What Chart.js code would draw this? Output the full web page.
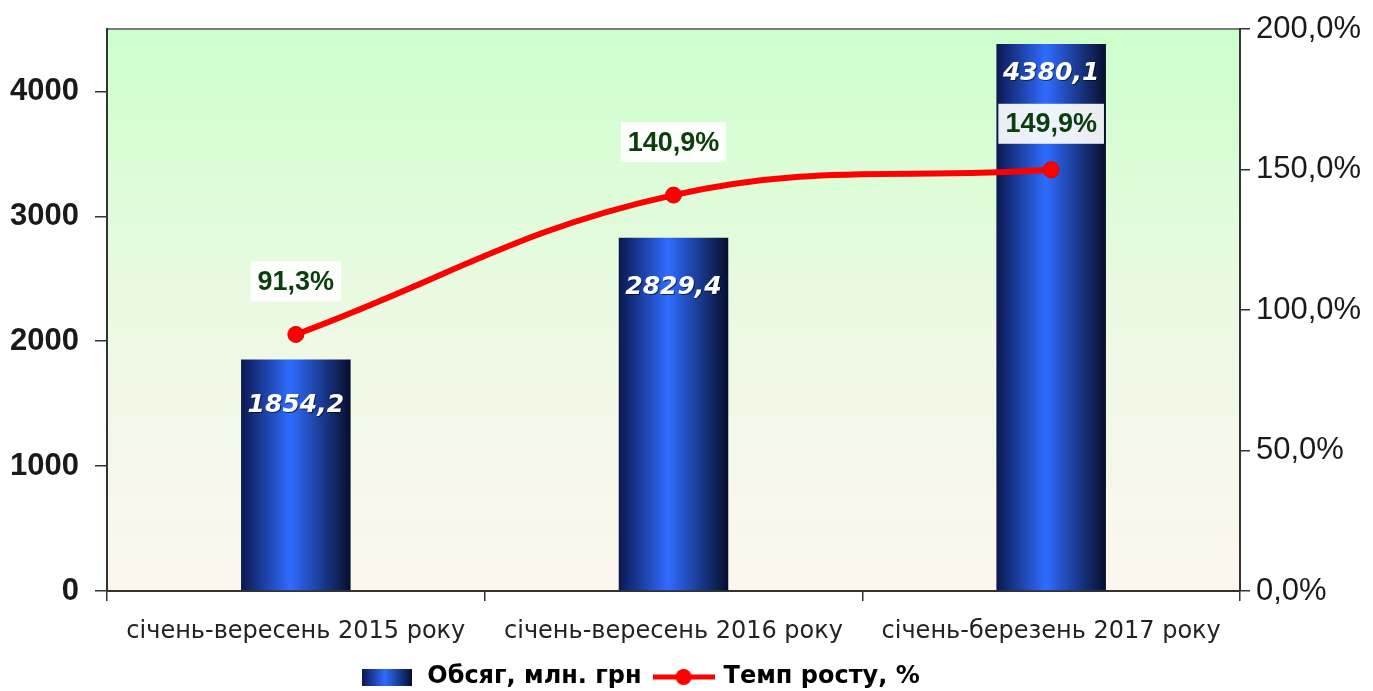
<!DOCTYPE html>
<html>
<head>
<meta charset="utf-8">
<script src="https://cdn.jsdelivr.net/npm/chart.js@4.4.1/dist/chart.umd.min.js"></script>
<style>
html,body{margin:0;padding:0;background:#fff}
#wrap{width:1373px;height:691px}
</style>
</head>
<body>
<div id="wrap"><canvas id="grafico" width="1373" height="691"></canvas></div>
<script>
// дані з діаграми
const kategorii=["січень-вересень 2015 року","січень-вересень 2016 року","січень-березень 2017 року"]
const obsyag=[1854.2,2829.4,4380.1]
const tempRostu=[91.3,140.9,149.9]
const tickyLivi=[0,1000,2000,3000,4000]
const tickyPravi=[0,50,100,150,200]

// зсув підписів (тільки оформлення)
const zsuvStovpciv=[46,50,30]
const zsuvTochok=[53,53,46]

function koma(v,d){
return v.toFixed(d).replace(".",",")
}

function gradStovpcya(ctx,x0,x1){
let g=ctx.createLinearGradient(x0,0,x1,0)
g.addColorStop(0,"#0b1850")
g.addColorStop(0.45,"#2f6cff")
g.addColorStop(1,"#070e2c")
return g
}

// картинки для легенди
function markerStovpec(){
let c=document.createElement("canvas")
c.width=50;c.height=17
let x=c.getContext("2d")
x.fillStyle=gradStovpcya(x,0,50)
x.fillRect(0,0,50,17)
return c
}
function markerLinia(){
let c=document.createElement("canvas")
c.width=62;c.height=18
let x=c.getContext("2d")
x.strokeStyle="#ff0000"
x.lineWidth=5
x.beginPath();x.moveTo(0,9);x.lineTo(62,9);x.stroke()
x.fillStyle="#ff0000"
x.beginPath();x.arc(31,9,8,0,Math.PI*2);x.fill()
return c
}

const fon={
id:"fon",
beforeDraw(chart){
let {ctx,chartArea:a}=chart
ctx.save()
let g=ctx.createLinearGradient(0,a.top,0,a.bottom)
g.addColorStop(0,"#ccffcc")
g.addColorStop(0.55,"#eef9e4")
g.addColorStop(1,"#fcf6ee")
ctx.fillStyle=g
ctx.fillRect(a.left,a.top,a.right-a.left,a.bottom-a.top)
ctx.strokeStyle="#555"
ctx.lineWidth=1.5
ctx.beginPath()
ctx.moveTo(a.left,a.top)
ctx.lineTo(a.right,a.top)
ctx.stroke()
ctx.restore()
},
afterLayout(chart){
let l=chart.legend
l.left-=47
l.right-=47
l.top+=8
l.bottom+=8
}
}

const pidpysy={
id:"pidpysy",
afterDatasetsDraw(chart){
let ctx=chart.ctx
ctx.save()
ctx.textAlign="center"
ctx.textBaseline="middle"

chart.getDatasetMeta(0).data.forEach((el,i)=>{
ctx.font="italic bold 25px 'DejaVu Sans'"
ctx.fillStyle="#ffffff"
ctx.shadowColor="rgba(0,0,0,0.6)"
ctx.shadowOffsetX=1
ctx.shadowOffsetY=1
ctx.fillText(koma(obsyag[i],1),el.x,el.y+zsuvStovpciv[i])
})

ctx.shadowColor="transparent"
chart.getDatasetMeta(1).data.forEach((el,i)=>{
ctx.font="bold 27px 'Liberation Sans'"
let t=koma(tempRostu[i],1)+"%"
let w=ctx.measureText(t).width+14
let cy=el.y-zsuvTochok[i]
ctx.fillStyle="rgba(255,255,255,0.92)"
ctx.fillRect(el.x-w/2,cy-20,w,40)
ctx.fillStyle="#0c3d0c"
ctx.fillText(t,el.x,cy+1)
})
ctx.restore()
}
}

new Chart(document.getElementById("grafico"),{
type:"bar",
data:{
labels:kategorii,
datasets:[
{
label:"Обсяг, млн. грн",
data:obsyag,
yAxisID:"y",
order:1,
categoryPercentage:1,
barPercentage:0.29,
backgroundColor:c=>{
let s=c.chart.scales.x
if(!s) return "#2f6cff"
let cx=s.getPixelForValue(c.dataIndex)
let hw=s.width/kategorii.length*0.29/2
return gradStovpcya(c.chart.ctx,cx-hw,cx+hw)
}
},
{
type:"line",
label:"Темп росту, %",
data:tempRostu,
yAxisID:"y1",
order:0,
borderColor:"#ff0000",
borderWidth:6,
tension:0.4,
pointRadius:8,
pointBackgroundColor:"#ff0000",
pointBorderColor:"#e00000",
pointBorderWidth:1
}
]
},
options:{
responsive:false,
animation:false,
layout:{padding:{top:29,bottom:0}},
plugins:{
tooltip:{enabled:false},
legend:{
position:"bottom",
labels:{
usePointStyle:true,
pointStyleWidth:56,
padding:14,
color:"#111",
font:{family:"'DejaVu Sans'",size:24,weight:"bold"},
generateLabels:()=>[
{text:"Обсяг, млн. грн",pointStyle:markerStovpec(),fillStyle:"#2f6cff",strokeStyle:"transparent",lineWidth:0,datasetIndex:0},
{text:"Темп росту, %",pointStyle:markerLinia(),fillStyle:"#ff0000",strokeStyle:"transparent",lineWidth:0,datasetIndex:1}
]
}
}
},
scales:{
x:{
offset:true,
grid:{offset:true,drawOnChartArea:false,tickLength:10,color:"#333",lineWidth:1.5},
border:{color:"#333",width:2},
ticks:{color:"#222",padding:16,maxRotation:0,font:{family:"'DejaVu Sans'",size:24}},
afterFit:s=>{s.height=52}
},
y:{
position:"left",
min:0,
max:4500,
afterBuildTicks:s=>{s.ticks=tickyLivi.map(v=>({value:v}))},
grid:{drawOnChartArea:false,tickLength:12,color:"#333",lineWidth:1.5},
border:{color:"#333",width:2},
ticks:{color:"#1a1a1a",padding:16,font:{family:"'Liberation Sans'",size:31,weight:"bold"},callback:v=>String(v)},
afterFit:s=>{s.width=107;s.paddingTop=0;s.paddingBottom=0}
},
y1:{
position:"right",
min:0,
max:200,
afterBuildTicks:s=>{s.ticks=tickyPravi.map(v=>({value:v}))},
grid:{drawOnChartArea:false,tickLength:10,color:"#333",lineWidth:1.5},
border:{color:"#333",width:2},
ticks:{color:"#1a1a1a",padding:6,font:{family:"'Liberation Sans'",size:31},callback:v=>koma(v,1)+"%"},
afterFit:s=>{s.width=133;s.paddingTop=0;s.paddingBottom=0}
}
}
},
plugins:[fon,pidpysy]
})
</script>
</body>
</html>
